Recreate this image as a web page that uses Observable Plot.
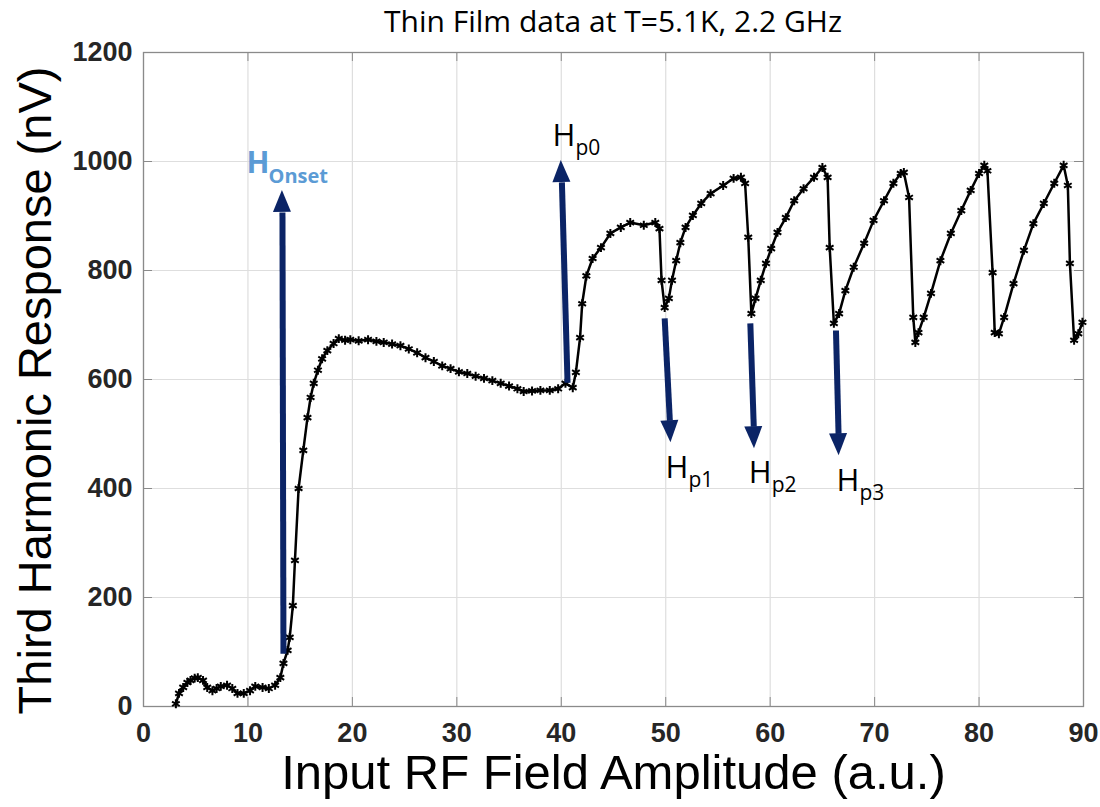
<!DOCTYPE html>
<html><head><meta charset="utf-8">
<script src="https://cdn.jsdelivr.net/npm/d3@7"></script>
<script src="https://cdn.jsdelivr.net/npm/@observablehq/plot@0.6"></script>
<style>
body{margin:0;background:#fff;}
#title{margin-left:143px;width:940px;height:40px;text-align:center;font-family:"Open Sans",sans-serif;font-size:30px;line-height:42px;color:#000;white-space:nowrap;}
</style></head><body>
<div id="title">Thin Film data at T=5.1K, 2.2 GHz</div>
<div id="chart"></div>
<script>
const fieldAmplitude = [3.1,3.4,3.8,4.2,4.5,4.9,5.2,5.7,6.1,6.6,7.0,7.4,8.0,8.5,9.0,9.6,10.2,10.7,11.4,12.0,12.6,13.1,13.4,13.8,14.0,14.3,14.5,14.85,15.3,15.7,16.0,16.3,16.7,17.1,17.6,18.2,18.7,19.3,19.8,20.6,21.5,22.3,23.0,23.8,24.6,25.4,26.2,27.0,27.8,28.6,29.4,30.2,31.0,31.8,32.6,33.4,34.2,35.0,35.8,36.4,37.2,38.0,38.9,39.7,40.4,41.1,41.4,41.8,42.0,42.4,43.0,43.8,44.7,45.7,46.6,47.9,49.0,49.4,49.6,49.9,50.3,50.6,51.0,51.4,51.9,52.6,53.4,54.3,55.5,56.5,57.2,57.6,57.9,58.2,58.6,59.1,59.6,60.1,60.7,61.5,62.3,63.2,64.2,65.0,65.5,65.7,66.1,66.6,67.2,68.0,69.0,69.9,70.9,71.8,72.5,72.8,73.3,73.7,73.9,74.2,74.7,75.4,76.3,77.3,78.3,79.2,80.0,80.5,80.8,81.3,81.5,81.9,82.4,83.3,84.3,85.2,86.2,87.2,88.1,88.5,88.7,89.1,89.5,89.9];
const thirdHarmonic = [5,24,35,44,48,52,53,48,35,29,33,37,39,33,24,24,29,37,35,33,39,53,79,103,127,185,268,400,470,530,567,593,617,638,653,666,675,672,673,671,673,670,668,665,662,656,649,640,633,625,620,614,611,606,602,598,593,588,583,578,579,580,580,583,593,585,613,677,739,790,822,842,868,879,888,883,888,877,782,732,749,782,818,851,879,901,923,941,956,969,971,960,861,721,749,782,813,840,870,897,928,950,971,989,971,842,703,721,763,806,850,892,928,960,978,980,934,714,668,686,714,758,818,868,910,947,978,993,983,796,686,684,714,776,837,886,923,960,993,956,813,672,684,705];
const xTicks = [0,10,20,30,40,50,60,70,80,90];
const yTicks = [0,200,400,600,800,1000,1200];
const arrowNames = ["HOnset","Hp0","Hp1","Hp2","Hp3"];
const arrowFromX = [13.4, 40.6, 49.9, 58.1, 66.3];
const arrowFromY = [97, 594, 712, 703, 690];
const arrowToX = [13.3, 40.0, 50.5, 58.5, 66.6];
const arrowToY = [947, 1002, 484, 473, 460];
const labelMain = ["H","H","H","H","H"];
const labelSub = ["Onset","p0","p1","p2","p3"];
const labelX = [9.86, 39.16, 49.98, 57.94, 66.35];
const labelY = [978, 1029, 420, 411, 396];
const xTitle = "Input RF Field Amplitude (a.u.)";
const yTitle = "Third Harmonic Response (nV)";

const W = 1100, H = 767, mT = 12, mB = 101, mL = 143, mR = 17;
const pw = W - mL - mR, ph = H - mT - mB;
const xPerPx = 90 / pw, yPerPx = 1200 / ph;
const headLen = 22, headHalf = 9;
const tickPx = 9;
const arrowColor = "#0b2466";

const data = fieldAmplitude.map((x, i) => ({x, y: thirdHarmonic[i]}));
const arrows = arrowNames.map((name, i) => {
  const dxp = (arrowToX[i] - arrowFromX[i]) / xPerPx;
  const dyp = -(arrowToY[i] - arrowFromY[i]) / yPerPx;
  const len = Math.hypot(dxp, dyp);
  const ux = dxp / len, uy = dyp / len;
  return {name, ux, uy, tx: arrowToX[i], ty: arrowToY[i], x1: arrowFromX[i], y1: arrowFromY[i],
    x2: arrowToX[i] - headLen * ux * xPerPx,
    y2: arrowToY[i] + headLen * uy * yPerPx};
});
const labels = labelMain.map((m, i) => ({main: m, sub: labelSub[i], x: labelX[i], y: labelY[i]}));
const onsetLabel = labels.slice(0, 1);
const peakLabels = labels.slice(1);
const innerX = xTicks.slice(1, -1), innerY = yTicks.slice(1, -1);
const tY = tickPx * yPerPx, tX = tickPx * xPerPx;
const lblFont = "'Open Sans', sans-serif";

const plot = Plot.plot({
  width: W, height: H, marginTop: mT, marginBottom: mB, marginLeft: mL, marginRight: mR,
  style: {fontFamily: "'Liberation Sans', Arial, sans-serif", background: "white", overflow: "visible"},
  x: {domain: [0, 90]},
  y: {domain: [0, 1200]},
  marks: [
    Plot.gridX(xTicks, {stroke: "#dedede", strokeOpacity: 1, strokeWidth: 1.2}),
    Plot.gridY(yTicks, {stroke: "#dedede", strokeOpacity: 1, strokeWidth: 1.2}),
    Plot.ruleX(innerX, {x: d => d, y1: 0, y2: tY, stroke: "#8a8a8a"}),
    Plot.ruleX(innerX, {x: d => d, y1: 1200 - tY, y2: 1200, stroke: "#8a8a8a"}),
    Plot.ruleY(innerY, {y: d => d, x1: 0, x2: tX, stroke: "#8a8a8a"}),
    Plot.ruleY(innerY, {y: d => d, x1: 90 - tX, x2: 90, stroke: "#8a8a8a"}),
    Plot.frame({stroke: "#8a8a8a", strokeWidth: 1.3}),
    Plot.axisX(xTicks, {tickSize: 0, tickPadding: 16, fontSize: 27, fontWeight: "bold", color: "#262626", label: null, tickFormat: d => String(d)}),
    Plot.axisY(yTicks, {tickSize: 0, tickPadding: 11, fontSize: 27, fontWeight: "bold", color: "#262626", label: null, tickFormat: d => String(d)}),
    Plot.line(data, {x: "x", y: "y", stroke: "black", strokeWidth: 2.5}),
    Plot.dot(data, {x: "x", y: "y", symbol: "asterisk", r: 4.2, stroke: "black", strokeWidth: 2}),
    Plot.link(arrows, {x1: "x1", y1: "y1", x2: "x2", y2: "y2", stroke: arrowColor, strokeWidth: 6, strokeLinecap: "butt"}),
    Plot.text(onsetLabel, {x: "x", y: "y", text: "main", fill: "#5b9bd5", fontWeight: "bold", fontSize: 30, fontFamily: lblFont, textAnchor: "start", lineAnchor: "bottom"}),
    Plot.text(onsetLabel, {x: "x", y: "y", text: "sub", fill: "#5b9bd5", fontWeight: "bold", fontSize: 20, fontFamily: lblFont, textAnchor: "start", lineAnchor: "bottom", dx: 22, dy: 10}),
    Plot.text(peakLabels, {x: "x", y: "y", text: "main", fill: "#000", fontSize: 31, fontFamily: lblFont, textAnchor: "start", lineAnchor: "bottom"}),
    Plot.text(peakLabels, {x: "x", y: "y", text: "sub", fill: "#000", fontSize: 21, fontFamily: lblFont, textAnchor: "start", lineAnchor: "bottom", dx: 23, dy: 9}),
    Plot.text([xTitle], {text: d => d, frameAnchor: "bottom", textAnchor: "middle", dy: 67, fontSize: 49, fill: "#000", lineAnchor: "middle"}),
    Plot.text([yTitle], {text: d => d, frameAnchor: "left", textAnchor: "middle", rotate: -90, dx: -108, dy: 11, fontSize: 47, fill: "#000", lineAnchor: "middle"})
  ]
});

// arrow heads, positioned through the plot's own scales
const sx = plot.scale("x"), sy = plot.scale("y");
const px = v => (sx && sx.apply) ? sx.apply(v) : mL + v / xPerPx;
const py = v => (sy && sy.apply) ? sy.apply(v) : mT + ph - v / yPerPx;
d3.select(plot).append("g").attr("aria-label", "arrow-heads")
  .selectAll("path").data(arrows).join("path")
  .attr("fill", arrowColor)
  .attr("d", a => {
    const tipX = px(a.tx), tipY = py(a.ty);
    const bx = tipX - headLen * a.ux, by = tipY - headLen * a.uy;
    const nx = -a.uy, ny = a.ux;
    return `M${tipX},${tipY}L${bx + headHalf * nx},${by + headHalf * ny}L${bx - headHalf * nx},${by - headHalf * ny}Z`;
  });

document.getElementById("chart").appendChild(plot);
</script>
</body></html>
